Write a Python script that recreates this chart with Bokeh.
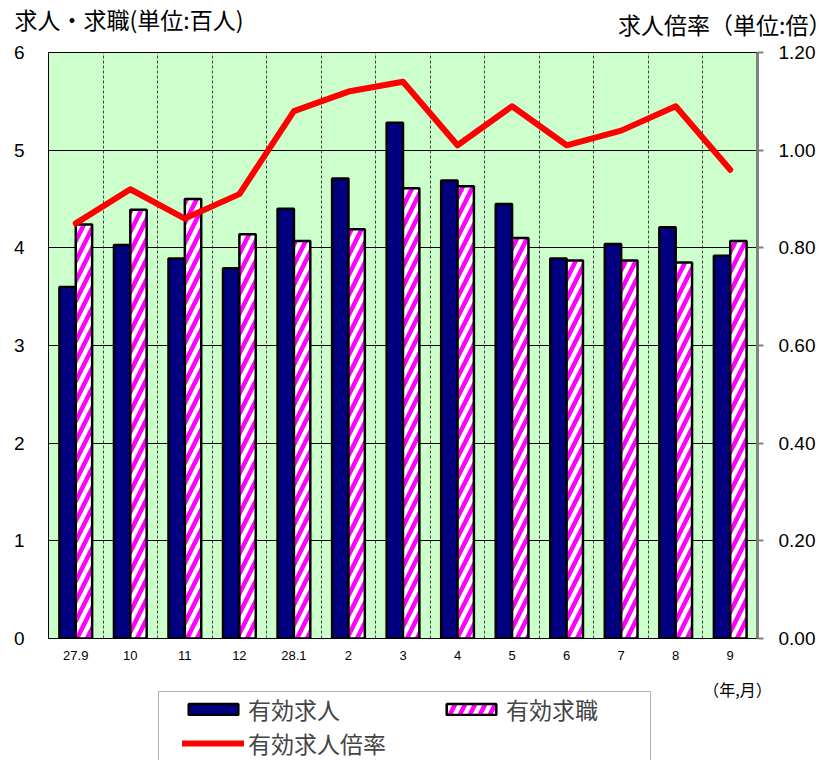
from bokeh.plotting import figure
from bokeh.layouts import column
from bokeh.models import (ColumnDataSource, Range1d, LinearAxis, FixedTicker,
                          NumeralTickFormatter, Legend, LegendItem, Label, BoxAnnotation)
from bokeh.transform import dodge
from bokeh.embed import file_html
from bokeh.resources import INLINE

# ---- data ----
months = ["27.9", "10", "11", "12", "28.1", "2", "3", "4", "5", "6", "7", "8", "9"]
job_offers = [3.60, 4.03, 3.89, 3.79, 4.40, 4.71, 5.28, 4.69, 4.45, 3.89, 4.04, 4.21, 3.92]
job_seekers = [4.24, 4.39, 4.50, 4.14, 4.07, 4.19, 4.61, 4.63, 4.10, 3.87, 3.87, 3.85, 4.07]
offer_ratio = [0.85, 0.92, 0.86, 0.91, 1.08, 1.12, 1.14, 1.01, 1.09, 1.01, 1.04, 1.09, 0.96]
left_ticks = [0, 1, 2, 3, 4, 5, 6]
ratio_ticks = [0.0, 0.2, 0.4, 0.6, 0.8, 1.0, 1.2]
series_names = ["有効求人", "有効求職", "有効求人倍率"]
left_title = "求人・求職(単位:百人)"
right_title = "求人倍率（単位:倍）"
x_unit_label = "（年,月）"

# ---- styles / geometry ----
W = 832
HEAD_H, FOOT_H = 40, 92
FL, FR = 48, 757
BT, FRAME_H, BB = 12, 586, 30
MAIN_H = BT + FRAME_H + BB
N = len(months)
cjk = "Noto Sans CJK JP"
num_font = "Liberation Sans"
NAVY, PINK, RED, BG = "#000080", "#FF00FF", "#FF0000", "#CCFFCC"


def blank(height):
    return figure(width=W, height=height, output_backend="svg", toolbar_location=None,
                  x_range=Range1d(0, W), y_range=Range1d(height, 0),
                  x_axis_type=None, y_axis_type=None, frame_align=False,
                  min_border_left=0, min_border_right=0, min_border_top=0, min_border_bottom=0,
                  outline_line_color=None, background_fill_color="white",
                  border_fill_color="white")


# ---- header with the two axis titles ----
head = blank(HEAD_H)
head.add_layout(Label(x=14, y=18, text=left_title, text_font=cjk, text_font_size="23px",
                      text_align="left", text_baseline="middle", text_color="black"))
head.add_layout(Label(x=W - 1, y=23, text=right_title, text_font=cjk, text_font_size="23px",
                      text_align="right", text_baseline="middle", text_color="black"))

# ---- main chart ----
src = ColumnDataSource(dict(x=list(range(N)), offers=job_offers,
                            seekers=job_seekers, ratio=offer_ratio))

p = figure(width=W, height=MAIN_H, output_backend="svg", toolbar_location=None,
           x_range=Range1d(-0.5, N - 0.5), y_range=Range1d(0, 6), frame_align=False,
           min_border_left=FL, min_border_right=W - FR,
           min_border_top=BT, min_border_bottom=BB,
           background_fill_color=BG, border_fill_color="white",
           outline_line_color="black", outline_line_width=1)
p.extra_y_ranges = {"ratio": Range1d(0, 1.2)}

bar_style = dict(width=0.3, line_color="black", line_width=2.5)
seek_style = dict(fill_color="white", hatch_pattern="right_diagonal_line", hatch_color=PINK,
                  hatch_scale=20, hatch_weight=4.5)
line_style = dict(line_color=RED, line_width=6, line_join="round", line_cap="round")

p.vbar(x=dodge("x", -0.15), top="offers", source=src, fill_color=NAVY, **bar_style)
p.vbar(x=dodge("x", 0.15), top="seekers", source=src, **seek_style, **bar_style)
p.line("x", "ratio", source=src, y_range_name="ratio", **line_style)

p.yaxis.ticker = FixedTicker(ticks=left_ticks)
p.yaxis.major_label_text_font = num_font
p.yaxis.major_label_text_font_size = "19px"
p.yaxis.major_label_text_color = "black"
p.yaxis.major_tick_out = 0
p.yaxis.major_tick_in = 0
p.yaxis.minor_tick_out = 0
p.yaxis.minor_tick_in = 0
p.yaxis.axis_line_color = "black"
p.yaxis.major_label_standoff = 24

p.xaxis.ticker = FixedTicker(ticks=list(range(N)))
p.xaxis.major_label_overrides = {i: m for i, m in enumerate(months)}
p.xaxis.major_label_text_font = num_font
p.xaxis.major_label_text_font_size = "13px"
p.xaxis.major_label_text_color = "black"
p.xaxis.major_tick_out = 0
p.xaxis.major_tick_in = 0
p.xaxis.minor_tick_out = 0
p.xaxis.minor_tick_in = 0
p.xaxis.axis_line_color = "black"
p.xaxis.major_label_standoff = 12

ax2 = LinearAxis(y_range_name="ratio", ticker=FixedTicker(ticks=ratio_ticks),
                 formatter=NumeralTickFormatter(format="0.00"),
                 axis_line_color="#808080", axis_line_width=3,
                 major_tick_out=6, major_tick_in=0, minor_tick_out=0, minor_tick_in=0,
                 major_tick_line_color="#808080", major_tick_line_width=2,
                 major_label_standoff=15, major_label_text_font=num_font,
                 major_label_text_font_size="19px", major_label_text_color="black")
p.add_layout(ax2, "right")

p.xgrid.ticker = FixedTicker(ticks=[i + 0.5 for i in range(N - 1)])
p.xgrid.grid_line_color = "#444444"
p.xgrid.grid_line_dash = "3 2"
p.xgrid.grid_line_width = 1
p.ygrid.ticker = FixedTicker(ticks=left_ticks[1:-1])
p.ygrid.grid_line_color = "black"
p.ygrid.grid_line_width = 1

# ---- footer: unit label and legend ----
foot = blank(FOOT_H)
foot.add_layout(Label(x=737, y=20, text=x_unit_label, text_font=cjk, text_font_size="16px",
                      text_align="center", text_baseline="middle", text_color="black"))
foot.add_layout(BoxAnnotation(left=158, right=650, top=23, bottom=FOOT_H + 50,
                              fill_alpha=0, line_color="black", line_width=1))
# legend swatches (invisible placeholder renderers carrying the series styles)
nan = float("nan")
swatch = ColumnDataSource(dict(x=[nan], y=[nan]))
d1 = foot.vbar(x="x", top="y", source=swatch, fill_color=NAVY, **bar_style)
d2 = foot.vbar(x="x", top="y", source=swatch, **seek_style, **bar_style)
d3 = foot.line("x", "y", source=swatch, **line_style)

legend = Legend(items=[LegendItem(label=series_names[0], renderers=[d1]),
                       LegendItem(label=series_names[1], renderers=[d2]),
                       LegendItem(label=series_names[2], renderers=[d3])],
                location=(182, 0), orientation="horizontal", ncols=2,
                padding=0, margin=0, spacing=-3,
                glyph_width=62, glyph_height=14, label_standoff=4,
                label_width=192, label_height=28,
                label_text_font=cjk, label_text_font_size="23px",
                background_fill_alpha=0, border_line_alpha=0)
foot.add_layout(legend)

layout = column(head, p, foot, spacing=0)
open("out.html", "w").write(file_html(layout, INLINE))
